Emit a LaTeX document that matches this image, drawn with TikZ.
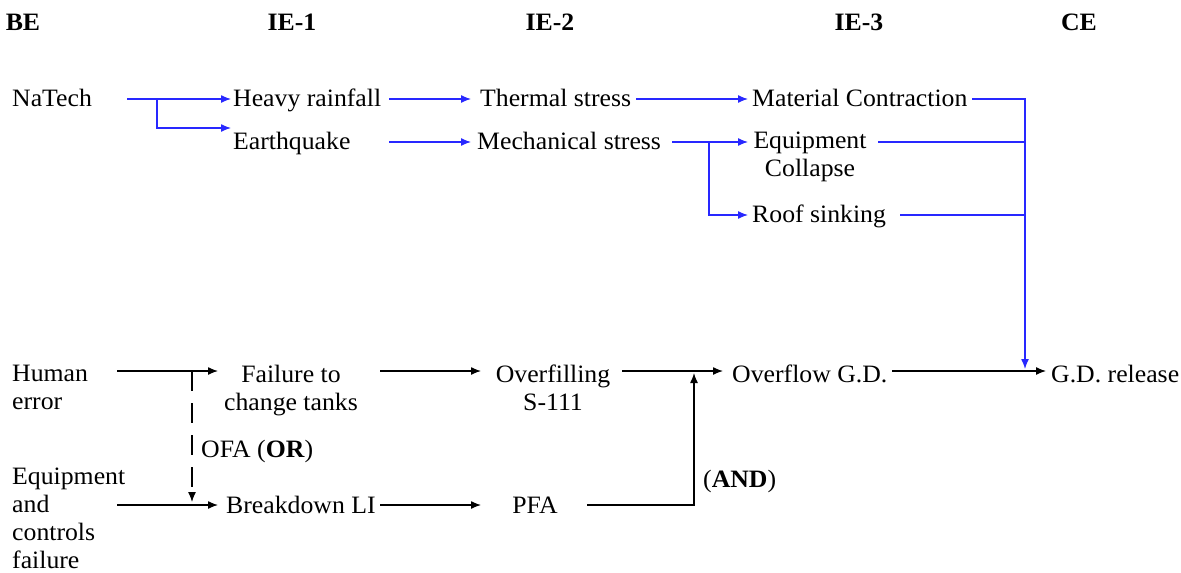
\documentclass[tikz,border=0pt]{standalone}
\usepackage{fontspec}
\setmainfont{Liberation Serif}[FakeStretch=1.03]
\usetikzlibrary{arrows.meta}
\definecolor{lnblue}{RGB}{40,40,255}
\begin{document}
\begin{tikzpicture}[x=1pt,y=-1pt,
  every node/.style={font=\fontsize{25}{28}\selectfont, inner sep=0pt},
  txt/.style={anchor=west, text height=15pt, text depth=0pt},
  mtxt/.style={anchor=north, align=center},
  mltxt/.style={anchor=north west, align=left},
  hdr/.style={anchor=base, font=\fontsize{25}{28}\selectfont\bfseries},
  bl/.style={draw=lnblue, line width=1.3pt},
  blar/.style={bl, -{Latex[length=10pt,width=8pt]}},
  bk/.style={draw=black, line width=1.3pt},
  bkar/.style={bk, -{Latex[length=10pt,width=8pt]}}]
\useasboundingbox (0,0) rectangle (1181,573);
% headers
\node[hdr] (hBE) at (23,30) {BE};
\node[hdr] (hIE1) at (292,30) {IE-1};
\node[hdr] (hIE2) at (550,30) {IE-2};
\node[hdr] (hIE3) at (859,30) {IE-3};
\node[hdr] (hCE) at (1079,30) {CE};
% top (blue) part
\node[txt] (natech) at (12,99) {NaTech};
\node[txt] (hr) at (233,99) {Heavy rainfall};
\node[txt] (eq) at (233,142) {Earthquake};
\node[txt] (ts) at (480,99) {Thermal stress};
\node[txt] (ms) at (477,142) {Mechanical stress};
\node[txt] (mc) at (752,99) {Material Contraction};
\node[mtxt] (ec) at (810,131.5) {Equipment\\Collapse};
\node[txt] (roof) at (752,215) {Roof sinking};
% bottom (black) part
\node[mltxt] (he) at (12,365) {Human\\error};
\node[mtxt] (fail) at (291,364.5) {Failure to\\change tanks};
\node[mtxt] (ovf) at (553,364.5) {Overfilling\\S-111};
\node[txt] (ogd) at (732,374.5) {Overflow G.D.};
\node[txt] (gdr) at (1051,374.5) {G.D. release};
\node[mltxt] (ecf) at (12,468) {Equipment\\and\\controls\\failure};
\node[txt] (bli) at (226,505.5) {Breakdown LI};
\node[anchor=center, text height=15pt, text depth=0pt] (pfa) at (535,505.5) {PFA};
\node[txt] (ofa) at (201,449.5) {OFA (\textbf{OR})};
\node[txt] (and) at (703,479.5) {(\textbf{AND})};
% blue connectors
\draw[blar] (127,0 |- natech.east) -- (231,0 |- hr.west);
\draw[blar] (157,0 |- natech.east) |- (231,128);
\draw[blar] (389,0 |- hr.east) -- (471,0 |- ts.west);
\draw[blar] (389,0 |- eq.east) -- (471,0 |- ms.west);
\draw[blar] (636,0 |- ts.east) -- (748,0 |- mc.west);
\draw[blar] (672,0 |- ms.east) -- (748,0 |- ms.east);
\draw[blar] (709,0 |- ms.east) |- (748,0 |- roof.west);
\draw[blar] (972,0 |- mc.east) -| (1025,369);
\draw[bl] (878,0 |- ms.east) -- (1025,0 |- ms.east);
\draw[bl] (900,0 |- roof.east) -- (1025,0 |- roof.east);
% black connectors
\draw[bkar] (117,371) -- (218,371);
\draw[bkar, dash pattern=on 20pt off 12pt] (192,371) -- (192,502);
\draw[bkar] (117,505) -- (218,505);
\draw[bkar] (380,371) -- (481,371);
\draw[bkar] (380,505) -- (481,505);
\draw[bkar] (622,371) -- (723,371);
\draw[bkar] (587,505) -| (694,373);
\draw[bkar] (892,371) -- (1046,371);
\end{tikzpicture}
\end{document}
